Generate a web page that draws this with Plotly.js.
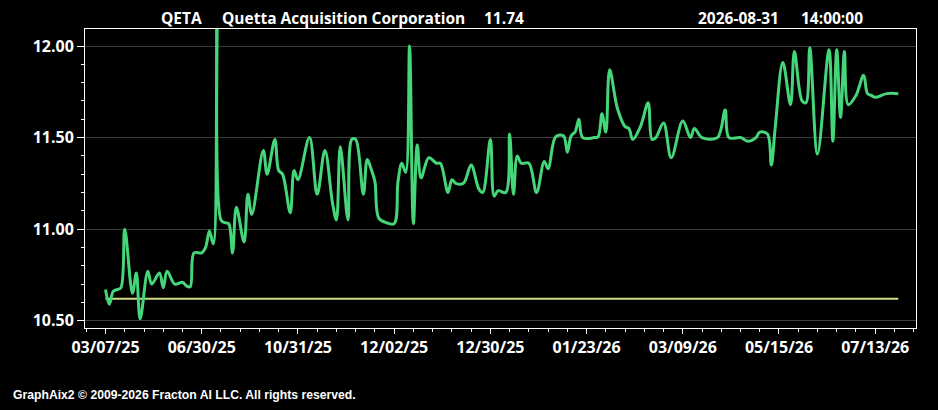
<!DOCTYPE html>
<html>
<head>
<meta charset="utf-8">
<script src="https://cdn.plot.ly/plotly-3.0.1.min.js"></script>
<style>
  html, body { margin: 0; padding: 0; background: #000; }
  #chart { width: 938px; height: 410px; }
</style>
</head>
<body>
<div id="chart"></div>
<script>
// ---- Data (x = trading-session index) ----
const symbol = 'QETA';
const companyName = 'Quetta Acquisition Corporation';
const lastPrice = '11.74';
const stampDate = '2026-08-31';
const stampTime = '14:00:00';

const xTickIdx = [0, 25, 50, 75, 100, 125, 150, 175, 200];
const xTickLabels = ['03/07/25', '06/30/25', '10/31/25', '12/02/25', '12/30/25',
                     '01/23/26', '03/09/26', '05/15/26', '07/13/26'];

const priceIdx = [0, 1, 2, 3, 4, 5, 7, 8, 9, 11, 12, 14, 15, 16, 18, 20, 21, 22, 23, 25,
  26, 27, 28, 29, 30, 31, 32, 33, 34, 36, 37, 38, 41, 42, 44, 45, 46, 48, 49, 50,
  53, 55, 57, 59, 60, 61, 63, 64, 65, 67, 68, 69, 70, 71, 73, 75, 76, 77, 78, 79,
  80, 81, 82, 84, 86, 87, 89, 90, 91, 93, 95, 97, 98, 100, 101, 102, 104, 105, 106, 107,
  108, 110, 112, 114, 115, 117, 119, 120, 121, 122, 123, 124, 127, 128, 129, 130, 131, 133, 135, 136,
  137, 139, 141, 142, 143, 145, 147, 150, 152, 153, 155, 159, 161, 162, 165, 167, 169, 170, 172, 173,
  174, 176, 178, 179, 181, 182, 183, 185, 188, 189, 190, 191, 192, 193, 195, 197, 198, 199, 200, 203, 206];
const priceVal = [10.67, 10.59, 10.66, 10.67, 10.68, 11.00, 10.65, 10.76, 10.51, 10.77, 10.70, 10.76, 10.68, 10.77, 10.70, 10.71, 10.69, 10.685, 10.87, 10.87,
  10.90, 10.99, 10.92, 12.25, 11.05, 11.035, 11.03, 10.87, 11.12, 10.93, 11.19, 11.08, 11.43, 11.30, 11.49, 11.32, 11.30, 11.09, 11.32, 11.27,
  11.50, 11.19, 11.43, 11.14, 11.05, 11.45, 11.05, 11.49, 11.49, 11.19, 11.38, 11.33, 11.26, 11.06, 11.035, 11.03, 11.26, 11.36, 11.31, 12.00,
  11.03, 11.46, 11.28, 11.39, 11.36, 11.36, 11.20, 11.27, 11.25, 11.25, 11.35, 11.22, 11.20, 11.49, 11.18, 11.21, 11.20, 11.52, 11.19, 11.40,
  11.36, 11.36, 11.20, 11.37, 11.33, 11.505, 11.51, 11.42, 11.51, 11.53, 11.60, 11.50, 11.50, 11.505, 11.63, 11.53, 11.87, 11.66, 11.56, 11.55,
  11.49, 11.56, 11.69, 11.49, 11.50, 11.58, 11.39, 11.59, 11.50, 11.55, 11.50, 11.50, 11.65, 11.50, 11.50, 11.48, 11.50, 11.53, 11.52, 11.35,
  11.55, 11.91, 11.68, 11.97, 11.70, 11.69, 11.99, 11.41, 11.98, 11.48, 11.98, 11.61, 11.97, 11.68, 11.73, 11.84, 11.74, 11.73, 11.72, 11.74, 11.74];

const trustIdx = [0, 206];
const trustVal = [10.62, 10.62];

const yTickVals = [10.5, 11.0, 11.5, 12.0];
const yTickText = ['10.50', '11.00', '11.50', '12.00'];

const footerText = 'GraphAix2 \u00A9 2009-2026 Fracton AI LLC. All rights reserved.';

// ---- Layout helpers ----
const W = 938, H = 410;
const M = { l: 85, r: 22, t: 29, b: 82 };
const plotW = W - M.l - M.r;
function px2paper(x) { return (x - M.l) / plotW; }

const titleFont = { family: 'Open Sans, sans-serif', size: 15.5, color: '#ffffff', weight: 'bold' };
const tickFont = { family: 'Open Sans, sans-serif', size: 16, color: '#ffffff', weight: 'bold' };

const traces = [
  {
    x: trustIdx, y: trustVal, type: 'scatter', mode: 'lines',
    line: { color: '#cfdb80', width: 2 }, hoverinfo: 'skip', showlegend: false
  },
  {
    x: priceIdx, y: priceVal, type: 'scatter', mode: 'lines',
    line: { color: '#45d67a', width: 3, shape: 'spline', smoothing: 1 },
    showlegend: false
  }
];

const headerItems = [
  { text: symbol, x: 159 },
  { text: companyName, x: 220 },
  { text: lastPrice, x: 482 },
  { text: stampDate, x: 696 },
  { text: stampTime, x: 799 }
];

const annotations = headerItems.map(h => ({
  text: h.text, xref: 'paper', yref: 'paper',
  x: px2paper(h.x), xanchor: 'left',
  y: 1 + (M.t - 18) / (H - M.t - M.b), yanchor: 'middle',
  showarrow: false, font: titleFont
}));
annotations.push({
  text: footerText, xref: 'paper', yref: 'paper',
  x: px2paper(11), xanchor: 'left',
  y: -(395 - (H - M.b)) / (H - M.t - M.b), yanchor: 'middle',
  showarrow: false,
  font: { family: 'Liberation Sans, Arial, sans-serif', size: 12.2, color: '#ffffff', weight: 'bold' }
});

const layout = {
  width: W, height: H,
  margin: M,
  paper_bgcolor: '#000000',
  plot_bgcolor: '#000000',
  showlegend: false,
  xaxis: {
    range: [-5.33, 210.6],
    tickmode: 'array', tickvals: xTickIdx, ticktext: xTickLabels,
    ticks: 'outside', ticklen: 5, tickcolor: '#ffffff', tickwidth: 1,
    minor: { dtick: 5, tick0: 0, ticks: 'outside', ticklen: 3, tickcolor: '#ffffff', showgrid: false },
    showgrid: false, zeroline: false,
    showline: true, linecolor: '#ffffff', linewidth: 1, mirror: true,
    tickfont: tickFont
  },
  yaxis: {
    range: [10.46, 12.093],
    tickmode: 'array', tickvals: yTickVals, ticktext: yTickText,
    ticks: 'outside', ticklen: 7, tickcolor: '#ffffff', tickwidth: 1,
    minor: { dtick: 0.1, tick0: 10, ticks: 'outside', ticklen: 3, tickcolor: '#ffffff', showgrid: false },
    showgrid: true, gridcolor: '#3c3c3c', gridwidth: 1, zeroline: false,
    showline: true, linecolor: '#ffffff', linewidth: 1, mirror: true,
    tickfont: tickFont
  },
  annotations: annotations
};

Plotly.newPlot('chart', traces, layout, { staticPlot: true, displayModeBar: false });
</script>
</body>
</html>
